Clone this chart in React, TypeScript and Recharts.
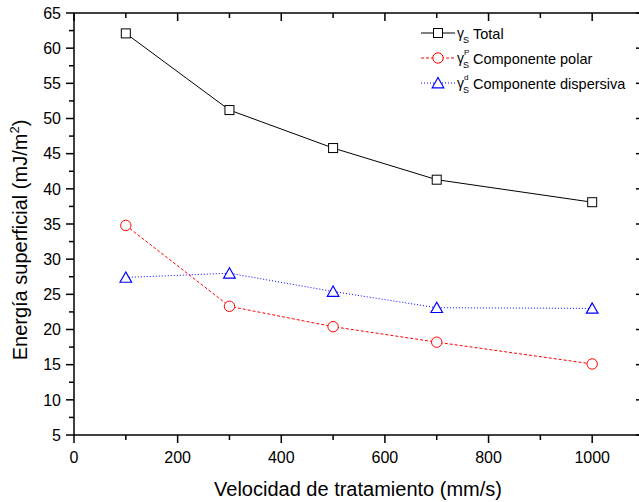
import React from "react";
import { LineChart, Line, XAxis, YAxis, Legend } from "recharts";

// velocidad de tratamiento (mm/s)
const speeds = [100, 300, 500, 700, 1000];
// energía superficial (mJ/m2)
const totalEnergy = [62.1, 51.2, 45.8, 41.3, 38.1];
const polarEnergy = [34.8, 23.3, 20.4, 18.2, 15.1];
const dispersiveEnergy = [27.4, 28.0, 25.4, 23.1, 23.0];

const xTicks = [0, 100, 200, 300, 400, 500, 600, 700, 800, 900, 1000, 1100];
const xLabelTicks = [0, 200, 400, 600, 800, 1000];
const yTicks = [5, 7.5, 10, 12.5, 15, 17.5, 20, 22.5, 25, 27.5, 30, 32.5, 35, 37.5, 40, 42.5, 45, 47.5, 50, 52.5, 55, 57.5, 60, 62.5, 65];
const yLabelTicks = [5, 10, 15, 20, 25, 30, 35, 40, 45, 50, 55, 60, 65];

const series = [
  { key: "total", name: "Total", sup: "", color: "#000000", dash: undefined, marker: "square" },
  { key: "polar", name: "Componente polar", sup: "P", color: "#ff0000", dash: "3 2", marker: "circle" },
  { key: "dispersive", name: "Componente dispersiva", sup: "d", color: "#0000ff", dash: "1 2", marker: "triangle" },
];

const data = speeds.map((s, i) => ({
  speed: s,
  total: totalEnergy[i],
  polar: polarEnergy[i],
  dispersive: dispersiveEnergy[i],
}));

const FONT = '"Liberation Sans", Arial, Helvetica, sans-serif';
const AXIS = { stroke: "#000", strokeWidth: 1.5 };

function Marker({ type, cx, cy, color }: any) {
  if (type === "square")
    return <rect x={cx - 4.5} y={cy - 4.5} width={9} height={9} fill="#fff" stroke={color} strokeWidth={1} />;
  if (type === "circle")
    return <circle cx={cx} cy={cy} r={5.2} fill="#fff" stroke={color} strokeWidth={1} />;
  return (
    <polygon
      points={`${cx},${cy - 5.5} ${cx - 5.8},${cy + 4.8} ${cx + 5.8},${cy + 4.8}`}
      fill="#fff"
      stroke={color}
      strokeWidth={1.2}
    />
  );
}

const dotFor = (type: string, color: string) => (p: any) =>
  <Marker key={`${type}-${p.index}`} type={type} cx={p.cx} cy={p.cy} color={color} />;

function BottomTick({ x, y, payload }: any) {
  const major = xLabelTicks.includes(payload.value);
  return (
    <g>
      <line x1={x} y1={y} x2={x} y2={y + (major ? 8 : 5)} {...AXIS} />
      {major && (
        <text x={x} y={y + 28} textAnchor="middle" fontSize={16} fontFamily={FONT} fill="#000">
          {payload.value}
        </text>
      )}
    </g>
  );
}

function TopTick({ x, y, payload }: any) {
  const major = xLabelTicks.includes(payload.value) || payload.value === 1100;
  return <line x1={x} y1={y} x2={x} y2={y + (major ? 8 : 5)} {...AXIS} />;
}

function LeftTick({ x, y, payload }: any) {
  const major = yLabelTicks.includes(payload.value);
  return (
    <g>
      <line x1={x} y1={y} x2={x - (major ? 8 : 5)} y2={y} {...AXIS} />
      {major && (
        <text x={x - 13} y={y + 5.8} textAnchor="end" fontSize={16} fontFamily={FONT} fill="#000">
          {payload.value}
        </text>
      )}
    </g>
  );
}

function RightTick({ x, y, payload }: any) {
  const major = yLabelTicks.includes(payload.value);
  return <line x1={x} y1={y} x2={x - (major ? 8 : 5)} y2={y} {...AXIS} />;
}

function LegendBox() {
  return (
    <svg width={224} height={80} style={{ overflow: "visible" }}>
      {series.map((s, i) => {
        const cy = 15 + i * 25;
        return (
          <g key={s.key}>
            <line x1={6} y1={cy} x2={40} y2={cy} stroke={s.color} strokeWidth={1} strokeDasharray={s.dash} />
            <Marker type={s.marker} cx={23} cy={cy} color={s.color} />
            <text x={42} y={cy + 5} fontSize={14} fontFamily={FONT} fill="#000">γ</text>
            <text x={48} y={cy + 10} fontSize={9} fontFamily={FONT} fill="#000">S</text>
            {s.sup && (
              <text x={49} y={cy - 3} fontSize={8} fontFamily={FONT} fill="#000">{s.sup}</text>
            )}
            <text x={58} y={cy + 5.5} fontSize={14.5} fontFamily={FONT} fill="#000">{s.name}</text>
          </g>
        );
      })}
    </svg>
  );
}

export default function App() {
  return (
    <div style={{ position: "absolute", left: 0, top: 0, width: 639, height: 502, overflow: "hidden", background: "#fff" }}>
      <LineChart width={645} height={502} data={data} margin={{ top: 0, right: 0, bottom: 0, left: 0 }}>
        <XAxis
          xAxisId="b"
          dataKey="speed"
          type="number"
          domain={[0, 1100]}
          allowDataOverflow
          ticks={xTicks}
          interval={0}
          height={67}
          tickSize={0}
          tickMargin={0}
          tickLine={false}
          axisLine={AXIS}
          tick={<BottomTick />}
          label={() => (
            <text x={358} y={496} textAnchor="middle" fontSize={20} fontFamily={FONT} fill="#000">
              Velocidad de tratamiento (mm/s)
            </text>
          )}
        />
        <XAxis
          xAxisId="t"
          orientation="top"
          dataKey="speed"
          type="number"
          domain={[0, 1100]}
          allowDataOverflow
          ticks={xTicks}
          interval={0}
          height={13}
          tickSize={0}
          tickMargin={0}
          tickLine={false}
          axisLine={AXIS}
          tick={<TopTick />}
        />
        <YAxis
          yAxisId="l"
          type="number"
          domain={[5, 65]}
          allowDataOverflow
          ticks={yTicks}
          interval={0}
          width={74}
          tickSize={0}
          tickMargin={0}
          tickLine={false}
          axisLine={AXIS}
          tick={<LeftTick />}
          label={() => (
            <text
              x={27}
              y={240}
              transform="rotate(-90, 27, 240)"
              textAnchor="middle"
              fontSize={20}
              fontFamily={FONT}
              fill="#000"
            >
              Energía superficial (mJ/m
              <tspan fontSize={13} dy={-8}>2</tspan>
              <tspan dy={8}>)</tspan>
            </text>
          )}
        />
        <YAxis
          yAxisId="r"
          orientation="right"
          type="number"
          domain={[5, 65]}
          allowDataOverflow
          ticks={yTicks}
          interval={0}
          width={1}
          tickSize={0}
          tickMargin={0}
          tickLine={false}
          axisLine={AXIS}
          tick={<RightTick />}
        />
        <Legend
          layout="horizontal"
          verticalAlign="middle"
          align="center"
          wrapperStyle={{ top: 18, left: 415, width: 224, height: 80 }}
          content={() => <LegendBox />}
        />
        {series.map((s) => (
          <Line
            key={s.key}
            xAxisId="b"
            yAxisId="l"
            dataKey={s.key}
            name={s.name}
            type="linear"
            stroke={s.color}
            strokeWidth={1}
            strokeDasharray={s.dash}
            dot={dotFor(s.marker, s.color)}
            activeDot={false}
            isAnimationActive={false}
          />
        ))}
      </LineChart>
    </div>
  );
}
